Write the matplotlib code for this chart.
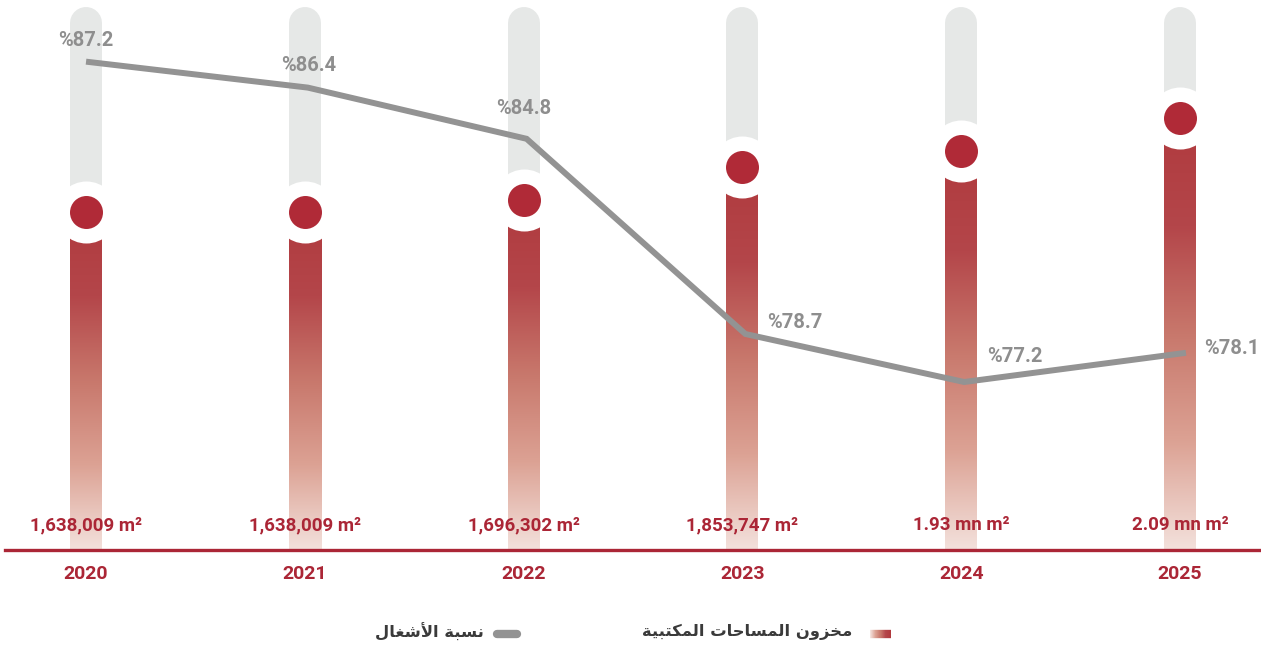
import numpy as np
import matplotlib
matplotlib.use("Agg")
import matplotlib.pyplot as plt
from matplotlib.colors import LinearSegmentedColormap
from matplotlib.lines import Line2D

# ---------------- data ----------------
years = ["2020", "2021", "2022", "2023", "2024", "2025"]
stock_mn = [1.638009, 1.638009, 1.696302, 1.853747, 1.93, 2.09]
stock_labels = ["1,638,009 m²", "1,638,009 m²", "1,696,302 m²",
                "1,853,747 m²", "1.93 mn m²", "2.09 mn m²"]
occupancy = [87.2, 86.4, 84.8, 78.7, 77.2, 78.1]
occ_labels = ["%87.2", "%86.4", "%84.8", "%78.7", "%77.2", "%78.1"]
legend_stock = "مخزون المساحات المكتبية"
legend_occ = "نسبة الأشغال"

# ---------------- minimal Arabic shaping (for LTR renderer) ----------------
FORMS = {  # iso, fin, ini, med  (None -> right-joining only)
    'ا': ('\uFE8D', '\uFE8E', None, None),
    'أ': ('\uFE83', '\uFE84', None, None),
    'ب': ('\uFE8F', '\uFE90', '\uFE91', '\uFE92'),
    'ة': ('\uFE93', '\uFE94', None, None),
    'ت': ('\uFE95', '\uFE96', '\uFE97', '\uFE98'),
    'ح': ('\uFEA1', '\uFEA2', '\uFEA3', '\uFEA4'),
    'خ': ('\uFEA5', '\uFEA6', '\uFEA7', '\uFEA8'),
    'ز': ('\uFEAF', '\uFEB0', None, None),
    'س': ('\uFEB1', '\uFEB2', '\uFEB3', '\uFEB4'),
    'ش': ('\uFEB5', '\uFEB6', '\uFEB7', '\uFEB8'),
    'غ': ('\uFECD', '\uFECE', '\uFECF', '\uFED0'),
    'ك': ('\uFED9', '\uFEDA', '\uFEDB', '\uFEDC'),
    'ل': ('\uFEDD', '\uFEDE', '\uFEDF', '\uFEE0'),
    'م': ('\uFEE1', '\uFEE2', '\uFEE3', '\uFEE4'),
    'ن': ('\uFEE5', '\uFEE6', '\uFEE7', '\uFEE8'),
    'و': ('\uFEED', '\uFEEE', None, None),
    'ي': ('\uFEF1', '\uFEF2', '\uFEF3', '\uFEF4'),
}
LAMALEF = {'ا': ('\uFEFB', '\uFEFC'), 'أ': ('\uFEF7', '\uFEF8')}


def joins_forward(c):
    return c in FORMS and FORMS[c][2] is not None


def shape(text):
    out = []
    chars = list(text)
    i = 0
    while i < len(chars):
        c = chars[i]
        prev = chars[i - 1] if i > 0 else None
        prev_j = prev is not None and joins_forward(prev) and not (
            out and out[-1] in ('\uFEFB', '\uFEFC', '\uFEF7', '\uFEF8'))
        if c == 'ل' and i + 1 < len(chars) and chars[i + 1] in LAMALEF:
            iso, fin = LAMALEF[chars[i + 1]]
            out.append(fin if prev_j else iso)
            i += 2
            continue
        if c not in FORMS:
            out.append(c)
            i += 1
            continue
        nxt = chars[i + 1] if i + 1 < len(chars) else None
        next_j = joins_forward(c) and nxt in FORMS
        iso, fin, ini, med = FORMS[c]
        if prev_j and next_j:
            out.append(med)
        elif prev_j:
            out.append(fin)
        elif next_j:
            out.append(ini)
        else:
            out.append(iso)
        i += 1
    return ''.join(reversed(out))


# ---------------- figure ----------------
W, H, DPI = 1261, 646, 100
fig = plt.figure(figsize=(W / DPI, H / DPI), dpi=DPI)
fig.patch.set_facecolor("white")

base_px = 550        # baseline (px from top)
left_px = 5
centre0_px, step_px = 86, 218.8
ax = fig.add_axes([left_px / W, (H - base_px) / H, 1 - left_px / W, base_px / H])
x = np.arange(len(years))
xlim = (-(centre0_px - left_px) / step_px,
        (len(years) - 1) + (W - (centre0_px + 5 * step_px)) / step_px)
px_per_mn = 206.5
ylim = (0, base_px / px_per_mn)
ax.axis("off")

bar_w = 32 / step_px
bar_lw = 32 * 0.72
gray_top = 543 / px_per_mn
gray_r = 16 / px_per_mn

# gray background bars with rounded top
for xi in x:
    ax.plot([xi, xi], [-1, gray_top - gray_r], color="#e6e8e7", lw=bar_lw,
            solid_capstyle="round", zorder=1)

# gradient red bars
cmap = LinearSegmentedColormap.from_list(
    "redgrad", ["#f3e1dc", "#dca294", "#c8786c", "#b4464a", "#b03a3e"])
grad = np.linspace(0, 1, 256).reshape(-1, 1)
for xi, v in zip(x, stock_mn):
    ax.imshow(grad, extent=[xi - bar_w / 2, xi + bar_w / 2, 0, v], origin="lower",
              aspect="auto", cmap=cmap, zorder=2, interpolation="bilinear")
ax.set_xlim(*xlim)
ax.set_ylim(*ylim)

# white ring + red dot
ax.scatter(x, stock_mn, s=(62 * 0.72) ** 2, color="white", zorder=3, linewidths=0)
ax.scatter(x, stock_mn, s=(33 * 0.72) ** 2, color="#b02a37", zorder=4, linewidths=0)

# value labels near bottom & year labels
for xi, lab in zip(x, stock_labels):
    ax.text(xi, 25 / px_per_mn, lab, ha="center", va="center", fontsize=13.5,
            fontweight="bold", color="#ab2636", family="Roboto", zorder=6)
for xi, yr in zip(x, years):
    ax.text(xi, -24 / px_per_mn, yr, ha="center", va="center", fontsize=14,
            fontweight="bold", color="#ab2636", family="Roboto", clip_on=False)

# baseline
fig.add_artist(Line2D([left_px / W, 1], [(H - base_px) / H] * 2, color="#ab2636",
                      lw=2.4, transform=fig.transFigure))

# occupancy line on twin axis
ax2 = ax.twinx()
ax2.axis("off")
ax2.set_xlim(*xlim)
px_per_pct = 32.0
ref_val, ref_px = 87.2, 62
ax2.set_ylim(ref_val - (base_px - ref_px) / px_per_pct, ref_val + ref_px / px_per_pct)
ax2.plot(x + 3 / step_px, occupancy, color="#939393", lw=4.3, zorder=7,
         solid_joinstyle="miter")

lab_off = [(0, 22), (4, 22), (0, 30), (52, 12), (54, 26), (52, 5)]  # px offsets
for xi, v, lab, (dx, dy) in zip(x, occupancy, occ_labels, lab_off):
    ax2.annotate(lab, (xi, v), xytext=(dx * 0.72, dy * 0.72), textcoords="offset points",
                 ha="center", va="center", fontsize=14.5, fontweight="bold",
                 color="#8e8e8e", family="Roboto", zorder=8)

# ---------------- legend ----------------
ly = (H - 634) / H
pill_lw = 6
n = 40
xs = np.linspace(870, 891, n + 1)
for i in range(n):
    c = cmap(i / (n - 1))
    fig.add_artist(Line2D([xs[i] / W, xs[i + 1] / W], [ly, ly], color=c, lw=pill_lw,
                          solid_capstyle="butt", transform=fig.transFigure))
fig.add_artist(Line2D([870 / W, 870 / W + 0.0001], [ly, ly], color=cmap(0.0), lw=pill_lw,
                      solid_capstyle="round", transform=fig.transFigure))
fig.add_artist(Line2D([891 / W - 0.0001, 891 / W], [ly, ly], color=cmap(1.0), lw=pill_lw,
                      solid_capstyle="round", transform=fig.transFigure))
fig.text(852 / W, (H - 632) / H, shape(legend_stock), ha="right", va="center",
         fontsize=11.8, fontweight="bold", color="#3a3a3a", family=["DejaVu Sans"])

fig.add_artist(Line2D([497 / W, 517 / W], [ly, ly], color="#939393", lw=pill_lw,
                      solid_capstyle="round", transform=fig.transFigure))
fig.text(484 / W, (H - 632) / H, shape(legend_occ), ha="right", va="center",
         fontsize=11.8, fontweight="bold", color="#3a3a3a", family=["DejaVu Sans"])

fig.savefig("out.png", dpi=DPI, facecolor="white")
